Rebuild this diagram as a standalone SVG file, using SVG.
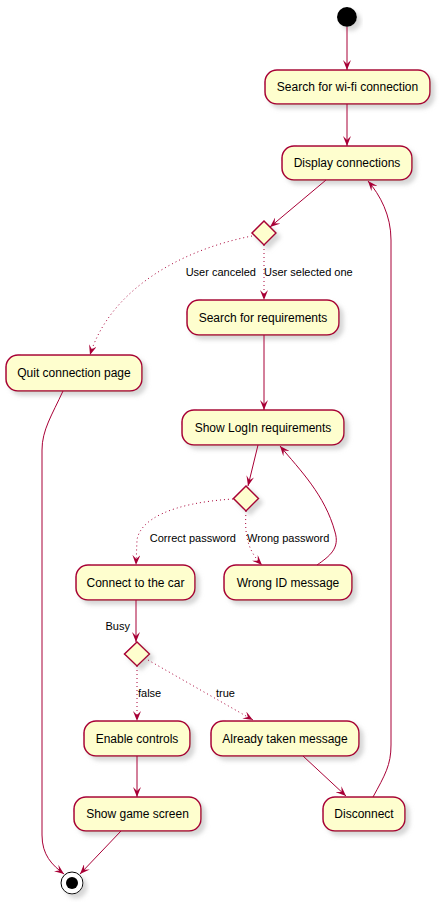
<svg xmlns="http://www.w3.org/2000/svg" width="439" height="902" viewBox="0 0 439 902">
<style>
.n rect{fill:#FEFECE;stroke:#A80036;stroke-width:1.5}
.n text{font-family:"Liberation Sans",Arial,sans-serif;font-size:12px;fill:#000;text-anchor:middle}
.d polygon{fill:#FEFECE;stroke:#A80036;stroke-width:1.5}
.e path{fill:none;stroke:#A80036;stroke-width:1}
.e .dot{stroke-dasharray:1,3}
.l{font-family:"Liberation Sans",Arial,sans-serif;font-size:11px;fill:#000}
</style>
<defs>
<filter id="sh" x="-20%" y="-20%" width="150%" height="160%">
<feGaussianBlur in="SourceAlpha" stdDeviation="2"/>
<feOffset dx="4" dy="4" result="b"/>
<feColorMatrix in="b" type="matrix" values="0 0 0 0 0.5 0 0 0 0 0.5 0 0 0 0 0.5 0 0 0 0.6 0" result="c"/>
<feMerge><feMergeNode in="c"/><feMergeNode in="SourceGraphic"/></feMerge>
</filter>
<marker id="a" markerWidth="10" markerHeight="8" refX="10" refY="4" orient="auto" markerUnits="userSpaceOnUse">
<path d="M0,0 L10,4 L0,8 L4,4 Z" fill="#A80036"/>
</marker>
</defs>
<g id="start"><circle cx="347" cy="17" r="10" fill="#000" filter="url(#sh)"/></g>
<g id="n1" class="n"><rect x="265" y="70" width="165" height="34" rx="12" filter="url(#sh)"/><text x="347.5" y="91">Search for wi-fi connection</text></g>
<g id="n2" class="n"><rect x="282" y="146" width="130" height="34" rx="12" filter="url(#sh)"/><text x="347" y="167">Display connections</text></g>
<g id="d1" class="d"><polygon points="264,221 276,233 264,245 252,233" filter="url(#sh)"/></g>
<g id="n3" class="n"><rect x="187" y="300" width="152" height="35" rx="12" filter="url(#sh)"/><text x="263" y="322">Search for requirements</text></g>
<g id="n4" class="n"><rect x="6" y="355" width="136" height="36" rx="12" filter="url(#sh)"/><text x="74" y="377">Quit connection page</text></g>
<g id="n5" class="n"><rect x="182" y="410" width="162" height="35" rx="12" filter="url(#sh)"/><text x="263" y="432">Show LogIn requirements</text></g>
<g id="d2" class="d"><polygon points="246,486 258.5,498.5 246,511 233.5,498.5" filter="url(#sh)"/></g>
<g id="n6" class="n"><rect x="76" y="565" width="119" height="35" rx="12" filter="url(#sh)"/><text x="135.5" y="587">Connect to the car</text></g>
<g id="n7" class="n"><rect x="224" y="565" width="128" height="35" rx="12" filter="url(#sh)"/><text x="288" y="587">Wrong ID message</text></g>
<g id="d3" class="d"><polygon points="137,642 149.5,654 137,666 124.5,654" filter="url(#sh)"/></g>
<g id="n8" class="n"><rect x="84" y="721" width="106" height="35" rx="12" filter="url(#sh)"/><text x="137" y="743">Enable controls</text></g>
<g id="n9" class="n"><rect x="211" y="721" width="148" height="35" rx="12" filter="url(#sh)"/><text x="285" y="743">Already taken message</text></g>
<g id="n10" class="n"><rect x="74" y="797" width="127" height="34" rx="12" filter="url(#sh)"/><text x="137.5" y="818">Show game screen</text></g>
<g id="n11" class="n"><rect x="323" y="797" width="82" height="34" rx="12" filter="url(#sh)"/><text x="364" y="818">Disconnect</text></g>
<g id="end"><circle cx="72" cy="883" r="11" fill="#fff" stroke="#000" stroke-width="1" filter="url(#sh)"/><circle cx="72" cy="883" r="6" fill="#000"/></g>
<g id="edges" class="e">
<path d="M347,27 L347,70" marker-end="url(#a)"/>
<path d="M347,104 L347,146" marker-end="url(#a)"/>
<path d="M326,180 L270,227" marker-end="url(#a)"/>
<path class="dot" d="M264,245 L264,300" marker-end="url(#a)"/>
<path class="dot" d="M252,236 C180,250 110,290 90,355" marker-end="url(#a)"/>
<path d="M264,335 L264,410" marker-end="url(#a)"/>
<path d="M258,445 L248,486" marker-end="url(#a)"/>
<path d="M317,565 C330,556 340,548 335,532 C325,495 300,470 280,446" marker-end="url(#a)"/>
<path class="dot" d="M233,499 C170,503 140,520 137,540 L136,565" marker-end="url(#a)"/>
<path class="dot" d="M246,511 C245,530 245,548 262,565" marker-end="url(#a)"/>
<path d="M136,600 L136,642" marker-end="url(#a)"/>
<path class="dot" d="M137,666 L137,721" marker-end="url(#a)"/>
<path class="dot" d="M148,660 L253,720" marker-end="url(#a)"/>
<path d="M137,756 L137,797" marker-end="url(#a)"/>
<path d="M303,756 L346,796" marker-end="url(#a)"/>
<path d="M373,797 C385,775 391,765 391,745 L391,240 C391,215 380,195 368,181" marker-end="url(#a)"/>
<path d="M63,391 C52,415 42,430 42,450 L42,835 C42,855 52,865 64,874" marker-end="url(#a)"/>
<path d="M121,831 L80,874" marker-end="url(#a)"/>
</g>
<g id="labels">
<text class="l" x="256" y="276" text-anchor="end">User canceled</text>
<text class="l" x="264" y="276">User selected one</text>
<text class="l" x="236" y="542" text-anchor="end">Correct password</text>
<text class="l" x="247" y="542">Wrong password</text>
<text class="l" x="130" y="630" text-anchor="end">Busy</text>
<text class="l" x="138" y="697">false</text>
<text class="l" x="216" y="697">true</text>
</g>
</svg>
